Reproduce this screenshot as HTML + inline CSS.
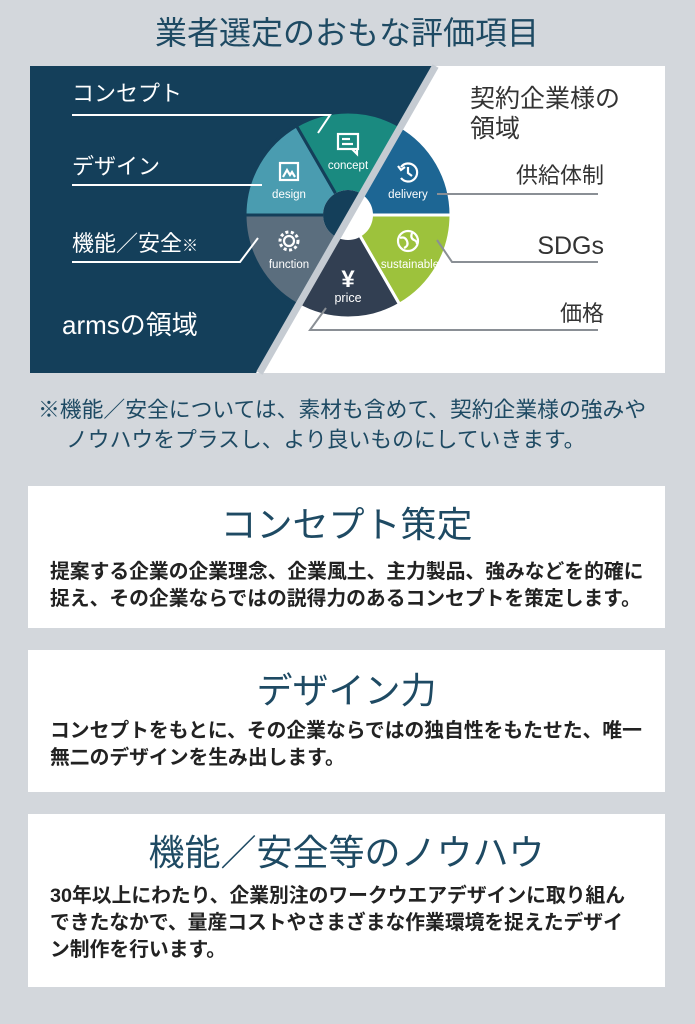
<!DOCTYPE html>
<html><head><meta charset="utf-8"><style>
body{margin:0;width:695px;height:1024px;background:#d3d7dc;font-family:"Liberation Sans","Noto Sans CJK JP",sans-serif;position:relative;overflow:hidden}
.box{position:absolute;left:28px;width:637px;background:#fff}
.h{position:absolute;left:0;right:0;text-align:center;color:#1e4a63;font-size:36px;line-height:40px}
.p{position:absolute;left:50px;right:0;color:#222;font-size:19.8px;line-height:27px;font-weight:bold;white-space:nowrap}
</style></head><body>
<svg width="695" height="480" style="position:absolute;left:0;top:0" font-family="Liberation Sans, Noto Sans CJK JP, sans-serif">
<text x="347" y="44" text-anchor="middle" font-size="32" fill="#1e4a63">業者選定のおもな評価項目</text>
<rect x="30" y="66" width="635" height="307" fill="#fff"/>
<defs><clipPath id="dk"><polygon points="30,66 432,66 256,373 30,373"/></clipPath></defs>
<polygon points="30,66 432,66 256,373 30,373" fill="#143f5a"/>
<g stroke-width="3">
<path d="M348,215 L399.5,125.8 A103,103 0 0 1 451,215 Z" fill="#1d6694" stroke="#fff"/>
<path d="M348,215 L451,215 A103,103 0 0 1 399.5,304.2 Z" fill="#9dc23c" stroke="#fff"/>
<path d="M348,215 L399.5,304.2 A103,103 0 0 1 296.5,304.2 Z" fill="#323f52" stroke="#fff"/>
<path d="M348,215 L296.5,304.2 A103,103 0 0 1 245,215 Z" fill="#5b6e7e" stroke="#143f5a"/>
<path d="M348,215 L245,215 A103,103 0 0 1 296.5,125.8 Z" fill="#4a9cb0" stroke="#143f5a"/>
<path d="M348,215 L296.5,125.8 A103,103 0 0 1 399.5,125.8 Z" fill="#1a8a80" stroke="#143f5a"/>
</g>
<circle cx="348" cy="215" r="25" fill="#fff"/>
<circle cx="348" cy="215" r="25" fill="#143f5a" clip-path="url(#dk)"/>
<line x1="435.5" y1="66" x2="259.5" y2="373" stroke="#c5cbd2" stroke-width="7"/>
<g fill="#fff" font-size="11.5" text-anchor="middle">
<text x="348" y="169">concept</text><text x="289" y="198">design</text><text x="289" y="268">function</text>
<text x="348" y="302" font-size="12.5">price</text><text x="410" y="268">sustainable</text><text x="408" y="198">delivery</text>
<text x="348" y="287" font-size="24" font-weight="bold">¥</text>
</g>
<g fill="none" stroke="#fff" stroke-width="2.2">
<rect x="338" y="134" width="20" height="15"/><path d="M352,149 L357,154 L357,149"/><line x1="342" y1="139" x2="350" y2="139"/><line x1="342" y1="144" x2="353" y2="144"/>
<rect x="280" y="163" width="18" height="17"/><path d="M283,177 L287,170 L290,175 L292,172 L295,177"/>
<circle cx="289" cy="241" r="5"/><circle cx="289" cy="241" r="9" stroke-dasharray="3 2.5" stroke-width="3"/>
<circle cx="408" cy="241" r="10"/><path d="M400,238 Q405,236 407,241 Q409,246 404,248 M412,233 Q410,238 414,240 Q417,241 417,244"/>
<path d="M401,167 A9,9 0 1 1 401,178 M398,166 L401,170 L405,167 M408,167 L408,173 L412,176"/>
</g>
<g fill="none" stroke="#fff" stroke-width="2">
<polyline points="72,115 330,115 318,133"/>
<line x1="72" y1="185" x2="262" y2="185"/>
<polyline points="72,262 240,262 258,238"/>
</g>
<g fill="none" stroke="#8a8f95" stroke-width="2">
<line x1="437" y1="194" x2="598" y2="194"/>
<polyline points="437,240 452,262 598,262"/>
<polyline points="326,308 310,330 598,330"/>
</g>
<g fill="#fff" font-size="22"><text x="72" y="101">コンセプト</text><text x="72" y="174">デザイン</text><text x="72" y="251">機能／安全<tspan font-size="16">※</tspan></text>
<text x="62" y="334" font-size="26">armsの領域</text></g>
<g fill="#333" font-size="22"><text x="470" y="107" font-size="25">契約企業様の</text><text x="470" y="137" font-size="25">領域</text>
<text x="604" y="183" text-anchor="end">供給体制</text><text x="604" y="254" text-anchor="end" font-size="25">SDGs</text><text x="604" y="321" text-anchor="end">価格</text></g>
<g fill="#1e4a63" font-size="21.8"><text x="38" y="417">※機能／安全については、素材も含めて、契約企業様の強みや</text><text x="66" y="447">ノウハウをプラスし、より良いものにしていきます。</text></g>
</svg>
<div class="box" style="top:486px;height:142px"><div class="h" style="top:19px">コンセプト策定</div>
<div class="p" style="top:73px;left:22px">提案する企業の企業理念、企業風土、主力製品、強みなどを的確に<br>捉え、その企業ならではの説得力のあるコンセプトを策定します。</div></div>
<div class="box" style="top:650px;height:142px"><div class="h" style="top:21px">デザイン力</div>
<div class="p" style="top:68px;left:22px">コンセプトをもとに、その企業ならではの独自性をもたせた、唯一<br>無二のデザインを生み出します。</div></div>
<div class="box" style="top:814px;height:173px"><div class="h" style="top:19px">機能／安全等のノウハウ</div>
<div class="p" style="top:69px;left:22px">30年以上にわたり、企業別注のワークウエアデザインに取り組ん<br>できたなかで、量産コストやさまざまな作業環境を捉えたデザイ<br>ン制作を行います。</div></div>
</body></html>
